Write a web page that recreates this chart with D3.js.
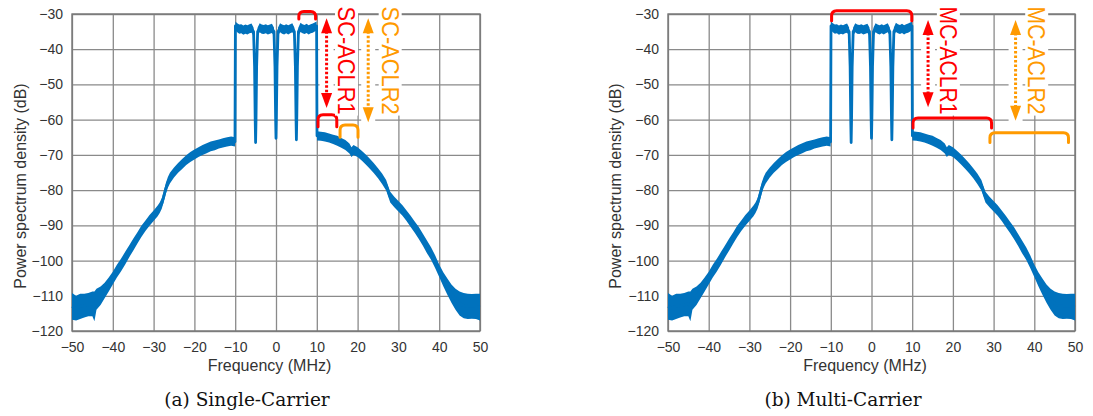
<!DOCTYPE html>
<html>
<head>
<meta charset="utf-8">
<script src="https://cdn.jsdelivr.net/npm/d3@7"></script>
<style>
  body { margin: 0; background: #fff; }
  svg { display: block; }
  .tick text { font-family: "Liberation Sans", Arial, sans-serif; font-size: 14px; fill: #333; }
  .axis-label { font-family: "Liberation Sans", Arial, sans-serif; font-size: 16px; fill: #333; }
  .caption { font-family: "DejaVu Serif", serif; font-size: 18.5px; fill: #111; }
  .note { font-family: "Liberation Sans", Arial, sans-serif; font-size: 24px; }
</style>
</head>
<body>
<svg id="chart" width="1093" height="416"></svg>
<script>
// measured spectrum (same trace in both panels): frequency, mean level, half width of the noise band
var freqMHz = [
  -50, -49, -48, -47, -46, -45, -44.5, -44, -43, -42, -41, -40, -39, -38, -37, -36, -35, -34, -33, -32, -31,
  -30, -29, -28.5, -28, -27.5, -27, -26.5, -26, -25, -24, -23, -22, -21, -20, -19, -18, -17, -16, -15, -14, -13, -12, -11, -10.05,
  -9.95, -9.5, -9, -8.5, -8, -7.5, -7, -6.5, -6, -5.5, -5.25, -5.1, -5, -4.9, -4.75, -4.5,
  -4, -3.5, -3, -2.5, -2, -1.5, -1, -0.5, -0.25, -0.1, 0, 0.1, 0.25, 0.5,
  1, 1.5, 2, 2.5, 3, 3.5, 4, 4.5, 4.75, 4.9, 5, 5.1, 5.25, 5.5,
  6, 6.5, 7, 7.5, 8, 8.5, 9, 9.5, 9.95,
  10.05, 11, 12, 13, 14, 15, 16, 17, 18, 18.5, 19, 20, 21, 22, 23, 24, 25, 26, 27, 27.5, 28, 29,
  30, 31, 32, 33, 34, 35, 36, 37, 38, 39, 40, 41, 42, 43, 44, 45, 46, 47, 48, 49, 50
];
var psdDb = [
  -113, -113.5, -113, -112.8, -112.5, -112.3, -113, -111, -110, -108.5, -106.8, -105, -103, -101.3, -99.4, -97.4, -95.5, -93.6, -91.7, -90.1, -88.6,
  -87.3, -85.9, -85, -83.8, -81.8, -79.5, -77.8, -76.6, -75, -73.7, -72.6, -71.5, -70.6, -69.9, -69.2, -68.6, -68.1, -67.6, -67.3, -66.9, -66.6, -66.3, -66.1, -66.3,
  -33.4, -33.9, -34.3, -34.2, -34.6, -34.3, -34.5, -34.2, -34, -35, -45, -60, -66.5, -60, -45, -35,
  -33.9, -34.3, -34.4, -34.2, -34.5, -34.3, -34.1, -35, -45, -59, -65.3, -59, -45, -35,
  -33.9, -34.3, -34.5, -34.2, -34.5, -34.2, -33.9, -35, -45, -59, -65.7, -59, -45, -35,
  -33.8, -34.2, -34.4, -34.1, -34.5, -34.2, -34, -33.7, -33.4,
  -64.6, -64.7, -64.9, -65.2, -65.6, -66, -66.6, -67.2, -68.2, -69.2, -68.6, -69.2, -70.2, -71.3, -72.5, -73.8, -75.2, -76.8, -78.6, -80.3, -82, -83.4,
  -84.6, -85.8, -87.3, -88.9, -90.5, -92.2, -94.1, -96.1, -98, -100.3, -102.9, -105.3, -107.4, -109.4, -111, -112.2, -112.8, -113, -113, -113, -113.2
];
var spreadDb = [
  3.8, 3.5, 3.6, 3.4, 3.3, 3.5, 4.2, 3, 2.6, 2.2, 2, 1.8, 1.8, 1.8, 1.8, 1.7, 1.7, 1.6, 1.6, 1.5, 1.5,
  1.5, 1.5, 1.5, 1.5, 1.5, 1.5, 1.5, 1.5, 1.4, 1.4, 1.4, 1.4, 1.4, 1.4, 1.4, 1.4, 1.4, 1.4, 1.4, 1.3, 1.3, 1.3, 1.3, 1.3,
  1.3, 1.3, 1.3, 1.3, 1.3, 1.3, 1.3, 1.3, 1.3, 1.2, 1, 0.8, 0.6, 0.8, 1, 1.2,
  1.3, 1.3, 1.3, 1.3, 1.3, 1.3, 1.3, 1.2, 1, 0.8, 0.6, 0.8, 1, 1.2,
  1.3, 1.3, 1.3, 1.3, 1.3, 1.3, 1.3, 1.2, 1, 0.8, 0.6, 0.8, 1, 1.2,
  1.3, 1.3, 1.3, 1.3, 1.3, 1.3, 1.3, 1.3, 1.3,
  1.3, 1.3, 1.3, 1.3, 1.3, 1.4, 1.4, 1.4, 1.4, 1.4, 1.4, 1.4, 1.4, 1.4, 1.4, 1.4, 1.4, 1.5, 1.5, 1.5, 1.5, 1.5,
  1.5, 1.5, 1.5, 1.6, 1.6, 1.7, 1.7, 1.8, 1.8, 1.8, 1.8, 2, 2.3, 2.6, 3, 3.4, 3.6, 3.6, 3.5, 3.6, 3.8
];

var xTicks = [-50, -40, -30, -20, -10, 0, 10, 20, 30, 40, 50];
var yTicks = [-120, -110, -100, -90, -80, -70, -60, -50, -40, -30];
var captions = ["(a) Single-Carrier", "(b) Multi-Carrier"];

// annotations: brackets [from MHz, to MHz, top dB, leg dB], arrows [MHz, top dB, bottom dB], labels [text, MHz, dB]
var scBrackets = [[5.6, 9.7, -29.3, -31.4, "red"], [10.3, 14.9, -58.6, -62, "red"], [15.7, 20.1, -61.5, -65, "orange"]];
var scArrows = [[12.4, -31.2, -56.7, "red"], [22.6, -31.2, -60.7, "orange"]];
var scLabels = [["SC-ACLR1", 15.2, -27.9, "red"], ["SC-ACLR2", 25.9, -27.9, "orange"]];
var mcBrackets = [[-9.8, 9.9, -29.1, -31.9, "red"], [10.2, 29.5, -59.5, -62.4, "red"], [29.1, 48.4, -63.7, -66.5, "orange"]];
var mcArrows = [[13.9, -31.7, -56.5, "red"], [35.4, -31.7, -60.3, "orange"]];
var mcLabels = [["MC-ACLR1", 16.8, -27.9, "red"], ["MC-ACLR2", 38.5, -27.9, "orange"]];

var colors = { red: "#ff0000", orange: "#ff9a00" };
var blue = "#0072bd";

var svg = d3.select("#chart");

function drawPanel(cfg, idx) {
  var top = 14, bottom = 331;
  var x = d3.scaleLinear().domain([-50, 50]).range([cfg.left, cfg.right]);
  var y = d3.scaleLinear().domain([-120, -30]).range([bottom, top]);
  var g = svg.append("g");

  // grid + tick labels
  g.append("g")
    .attr("transform", "translate(0," + bottom + ")")
    .call(d3.axisBottom(x).tickValues(xTicks).tickSize(-(bottom - top)).tickPadding(11))
    .call(a => a.select(".domain").remove())
    .call(a => a.selectAll("line").attr("stroke", "#8a8a8a").attr("stroke-width", 1.3));

  g.append("g")
    .attr("transform", "translate(" + cfg.left + ",0)")
    .call(d3.axisLeft(y).tickValues(yTicks).tickSize(-(cfg.right - cfg.left)).tickPadding(9))
    .call(a => a.select(".domain").remove())
    .call(a => a.selectAll("line").attr("stroke", "#8a8a8a").attr("stroke-width", 1.3));

  g.append("rect")
    .attr("x", cfg.left).attr("y", top)
    .attr("width", cfg.right - cfg.left).attr("height", bottom - top)
    .attr("fill", "none").attr("stroke", "#777").attr("stroke-width", 1.4);

  // axis titles
  g.append("text").attr("class", "axis-label")
    .attr("x", (cfg.left + cfg.right) / 2 - 6.5).attr("y", 371)
    .attr("text-anchor", "middle").text("Frequency (MHz)");
  g.append("text").attr("class", "axis-label")
    .attr("transform", "translate(" + cfg.ylabelX + ",186) rotate(-90)")
    .attr("text-anchor", "middle").attr("dy", "0.35em")
    .text("Power spectrum density (dB)");

  g.append("text").attr("class", "caption")
    .attr("x", cfg.captionX).attr("y", 406)
    .attr("text-anchor", "middle").text(captions[idx]);

  // spectrum
  var pts = freqMHz.map((f, i) => ({ f: f, v: psdDb[i], s: spreadDb[i] }));
  var area = d3.area()
    .x(d => x(d.f))
    .y0(d => y(d.v - d.s))
    .y1(d => y(d.v + d.s));
  var line = d3.line()
    .x(d => x(d.f))
    .y(d => y(d.v));

  g.append("path").datum(pts).attr("d", area).attr("fill", blue);
  g.append("path").datum(pts).attr("d", line)
    .attr("fill", "none").attr("stroke", blue)
    .attr("stroke-width", 2.8).attr("stroke-linejoin", "round");

  // annotations
  var ann = g.append("g");

  cfg.brackets.forEach(b => {
    var x0 = x(b[0]), x1 = x(b[1]), yt = y(b[2]), yb = y(b[3]);
    var r = 5;
    ann.append("path")
      .attr("d", "M" + x0 + "," + yb + "L" + x0 + "," + (yt + r) +
        "Q" + x0 + "," + yt + " " + (x0 + r) + "," + yt +
        "L" + (x1 - r) + "," + yt +
        "Q" + x1 + "," + yt + " " + x1 + "," + (yt + r) +
        "L" + x1 + "," + yb)
      .attr("fill", "none").attr("stroke", colors[b[4]])
      .attr("stroke-width", 3).attr("stroke-linecap", "round");
  });

  cfg.arrows.forEach(a => {
    var ax = x(a[0]), yt = y(a[1]), yb = y(a[2]);
    var c = colors[a[3]];
    ann.append("rect").attr("x", ax - 7).attr("y", yt - 1)
      .attr("width", 14).attr("height", yb - yt + 2).attr("fill", "#fff");
    ann.append("line")
      .attr("x1", ax).attr("x2", ax).attr("y1", yt + 13).attr("y2", yb - 13)
      .attr("stroke", c).attr("stroke-width", 3).attr("stroke-dasharray", "2.5,2");
    ann.append("path")
      .attr("d", "M" + ax + "," + yt + "L" + (ax - 5.5) + "," + (yt + 15) + "L" + (ax + 5.5) + "," + (yt + 15) + "Z")
      .attr("fill", c);
    ann.append("path")
      .attr("d", "M" + ax + "," + yb + "L" + (ax - 5.5) + "," + (yb - 15) + "L" + (ax + 5.5) + "," + (yb - 15) + "Z")
      .attr("fill", c);
  });

  cfg.labels.forEach(l => {
    var lg = ann.append("g")
      .attr("transform", "translate(" + x(l[1]) + "," + y(l[2]) + ") rotate(90)");
    var t = lg.append("text").attr("class", "note")
      .attr("fill", colors[l[3]])
      .attr("textLength", 108).attr("lengthAdjust", "spacingAndGlyphs")
      .text(l[0]);
    var bb = t.node().getBBox();
    lg.insert("rect", "text")
      .attr("x", bb.x - 1).attr("y", bb.y + 2)
      .attr("width", bb.width + 2).attr("height", bb.height - 4)
      .attr("fill", "#fff");
  });
}

drawPanel({ left: 72, right: 480, ylabelX: 20, captionX: 247,
  brackets: scBrackets, arrows: scArrows, labels: scLabels }, 0);
drawPanel({ left: 668, right: 1075, ylabelX: 615, captionX: 843,
  brackets: mcBrackets, arrows: mcArrows, labels: mcLabels }, 1);
</script>
</body>
</html>
